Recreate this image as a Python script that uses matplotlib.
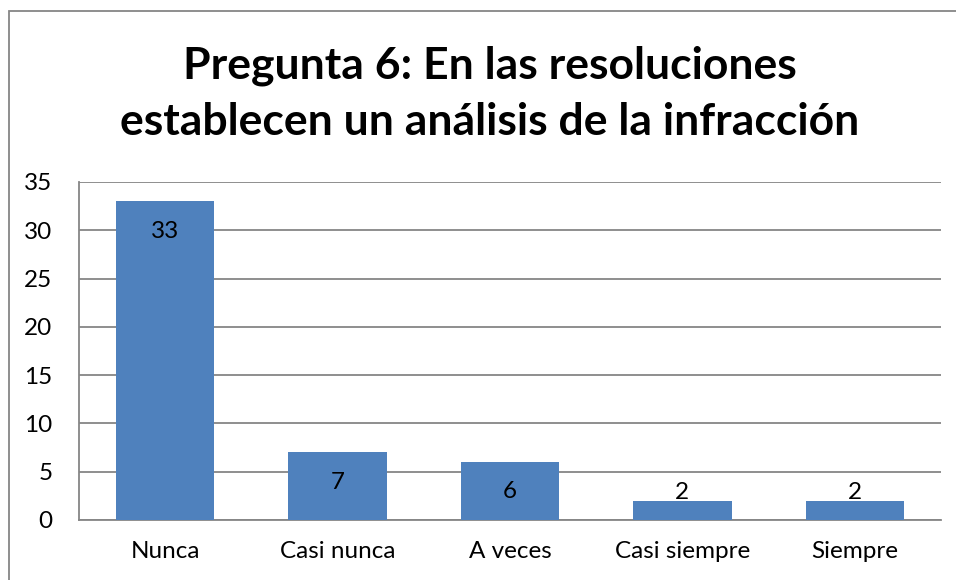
import matplotlib
matplotlib.use("Agg")
import matplotlib.pyplot as plt
from matplotlib.patches import Rectangle

categories = ["Nunca", "Casi nunca", "A veces", "Casi siempre", "Siempre"]
values = [33, 7, 6, 2, 2]
yticks = [0, 5, 10, 15, 20, 25, 30, 35]
title = "Pregunta 6: En las resoluciones\nestablecen un análisis de la infracción"

FONT = "Lato"
plt.rcParams["font.family"] = [FONT, "DejaVu Sans"]

fig = plt.figure(figsize=(9.56, 5.8), dpi=100)
ax = fig.add_axes([79/956, 1-520/580, (941-79)/956, (520-182)/580])

x = list(range(len(categories)))
ax.bar(x, values, width=0.57, color="#4F81BD", zorder=3)
ax.set_xlim(-0.5, len(categories)-0.5)
ax.set_ylim(0, 35)
ax.set_yticks(yticks)
ax.yaxis.grid(True, color="#868686", linewidth=1.3, zorder=0)
ax.set_axisbelow(True)
for s in ["top", "right"]:
    ax.spines[s].set_visible(False)
for s in ["left", "bottom"]:
    ax.spines[s].set_color("#868686")
    ax.spines[s].set_linewidth(1.3)
ax.tick_params(axis="y", length=0, pad=19, labelsize=17.5)
ax.tick_params(axis="x", length=0, pad=15, labelsize=17.5)
ax.set_xticks(x)
ax.set_xticklabels(categories)

for xi, v in zip(x, values):
    ypos = max(v - 3.1, 2.8)
    ax.text(xi, ypos, str(v), ha="center", va="center", fontsize=17.5, zorder=4)

fig.text(490/956, 1-93.5/580, title, ha="center", va="center", fontsize=32,
         fontweight="bold", linespacing=1.5)

fig.patches.append(Rectangle((9/956, -0.1), 1.2, 1-11/580+0.1, transform=fig.transFigure,
                             fill=False, edgecolor="#868686", linewidth=1.3))

fig.savefig("out.png", dpi=100)
